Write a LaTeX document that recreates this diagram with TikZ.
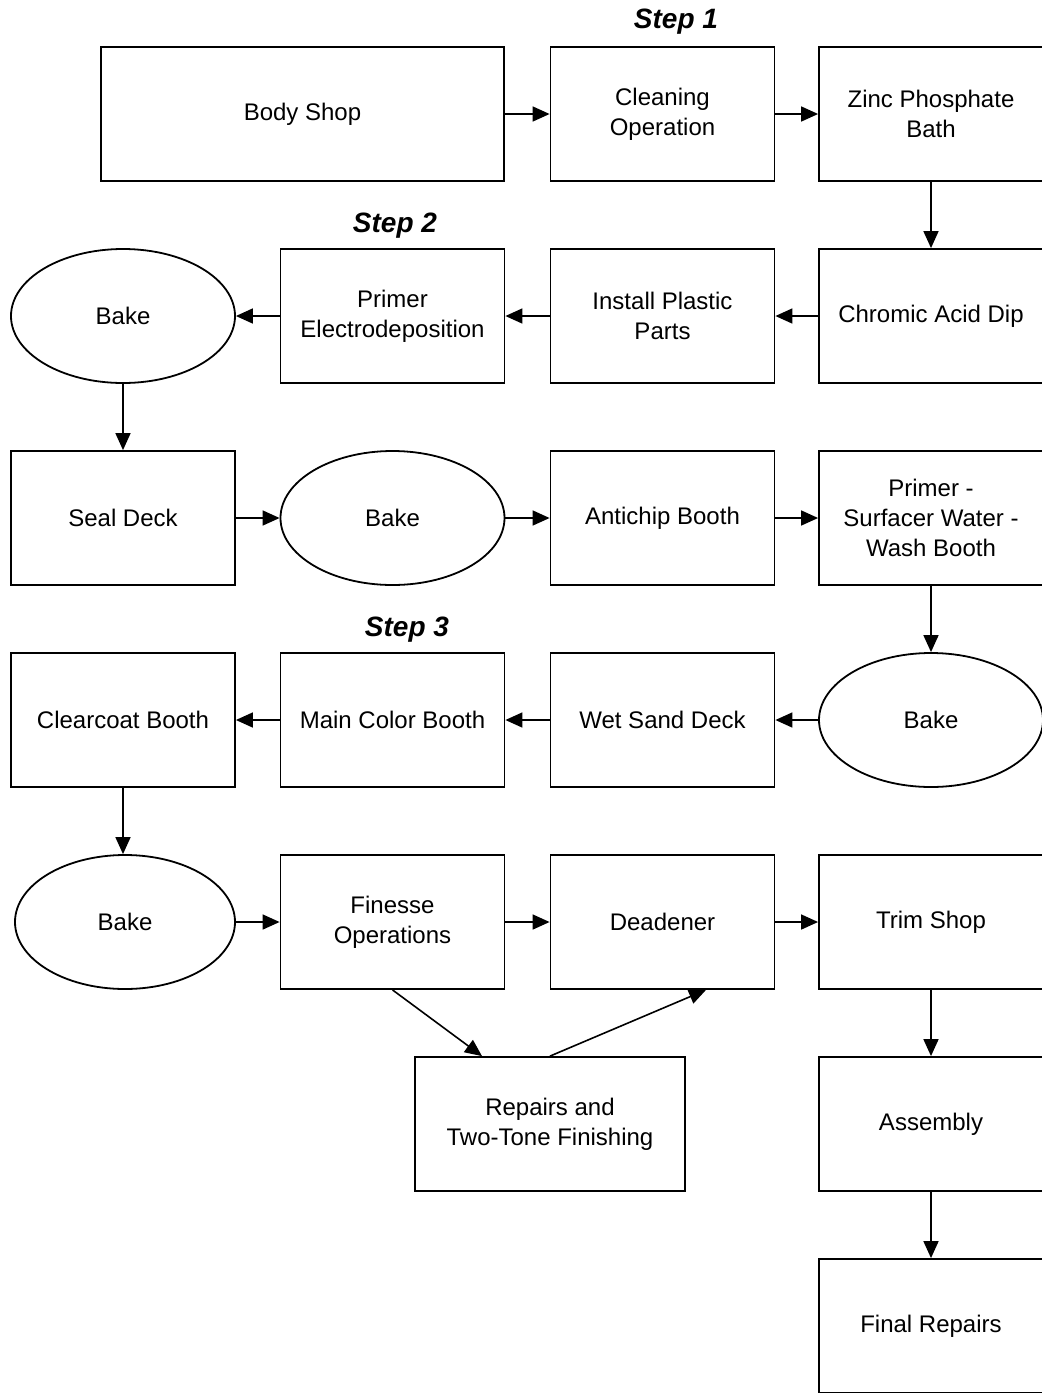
\documentclass[tikz,border=0pt]{standalone}
\usepackage{fontspec}
\setmainfont{Liberation Sans}
\usetikzlibrary{arrows.meta,shapes.geometric}
\begin{document}
\begin{tikzpicture}[x=1pt,y=-1pt,
  box/.style={draw,line width=1.8pt,rectangle,inner sep=0pt,minimum height=134pt,minimum width=224pt,align=center,font=\fontsize{24}{30}\selectfont},
  oval/.style={draw,line width=1.8pt,ellipse,inner sep=0pt,minimum height=134pt,minimum width=224pt,align=center,font=\fontsize{24}{30}\selectfont},
  arr/.style={line width=1.6pt,-{Triangle[length=17pt,width=15pt]}},
  steplbl/.style={font=\fontsize{28}{32}\selectfont\bfseries\itshape,inner sep=0pt}]
\useasboundingbox (0,0) rectangle (1042,1393);
\clip (0,0) rectangle (1042,1393);
% labels
\node[steplbl] (s1) at (676,22) {Step 1};
\node[steplbl] (s2) at (395,226) {Step 2};
\node[steplbl] (s3) at (407,630) {Step 3};
% row 1
\node[box,minimum width=403pt] (body) at (302.5,114) {Body Shop};
\node[box] (clean) at (662.5,114) {Cleaning\\Operation};
\node[box] (zinc) at (931,114) {Zinc Phosphate\\Bath};
% row 2
\node[oval] (bake1) at (123,316) {Bake};
\node[box] (primer) at (392.5,316) {Primer\\Electrodeposition};
\node[box] (install) at (662.5,316) {Install Plastic\\Parts};
\node[box] (chrom) at (931,316) {Chromic Acid Dip};
% row 3
\node[box] (seal) at (123,518) {Seal Deck};
\node[oval] (bake2) at (392.5,518) {Bake};
\node[box] (anti) at (662.5,518) {Antichip Booth};
\node[box] (surf) at (931,518) {Primer -\\Surfacer Water -\\Wash Booth};
% row 4
\node[box] (clear) at (123,720) {Clearcoat Booth};
\node[box] (main) at (392.5,720) {Main Color Booth};
\node[box] (wet) at (662.5,720) {Wet Sand Deck};
\node[oval] (bake3) at (931,720) {Bake};
% row 5
\node[oval,minimum width=220pt] (bake4) at (125,922) {Bake};
\node[box] (fin) at (392.5,922) {Finesse\\Operations};
\node[box] (dead) at (662.5,922) {Deadener};
\node[box] (trim) at (931,922) {Trim Shop};
% lower
\node[box,minimum width=270pt] (rep) at (550,1124) {Repairs and\\Two-Tone Finishing};
\node[box] (asm) at (931,1124) {Assembly};
\node[box] (final) at (931,1326) {Final Repairs};
% connectors
\draw[arr] (body) -- (clean);
\draw[arr] (clean) -- (zinc);
\draw[arr] (zinc) -- (chrom);
\draw[arr] (chrom) -- (install);
\draw[arr] (install) -- (primer);
\draw[arr] (primer) -- (bake1);
\draw[arr] (bake1) -- (seal);
\draw[arr] (seal) -- (bake2);
\draw[arr] (bake2) -- (anti);
\draw[arr] (anti) -- (surf);
\draw[arr] (surf) -- (bake3);
\draw[arr] (bake3) -- (wet);
\draw[arr] (wet) -- (main);
\draw[arr] (main) -- (clear);
\draw[arr] (clear.south) -- (clear.south |- bake4.north);
\draw[arr] (bake4) -- (fin);
\draw[arr] (fin) -- (dead);
\draw[arr] (dead) -- (trim);
\draw[arr] (fin.south) -- ([xshift=-68pt]rep.north);
\draw[arr] (rep.north) -- ([xshift=43.5pt]dead.south);
\draw[arr] (trim) -- (asm);
\draw[arr] (asm) -- (final);
\end{tikzpicture}
\end{document}
